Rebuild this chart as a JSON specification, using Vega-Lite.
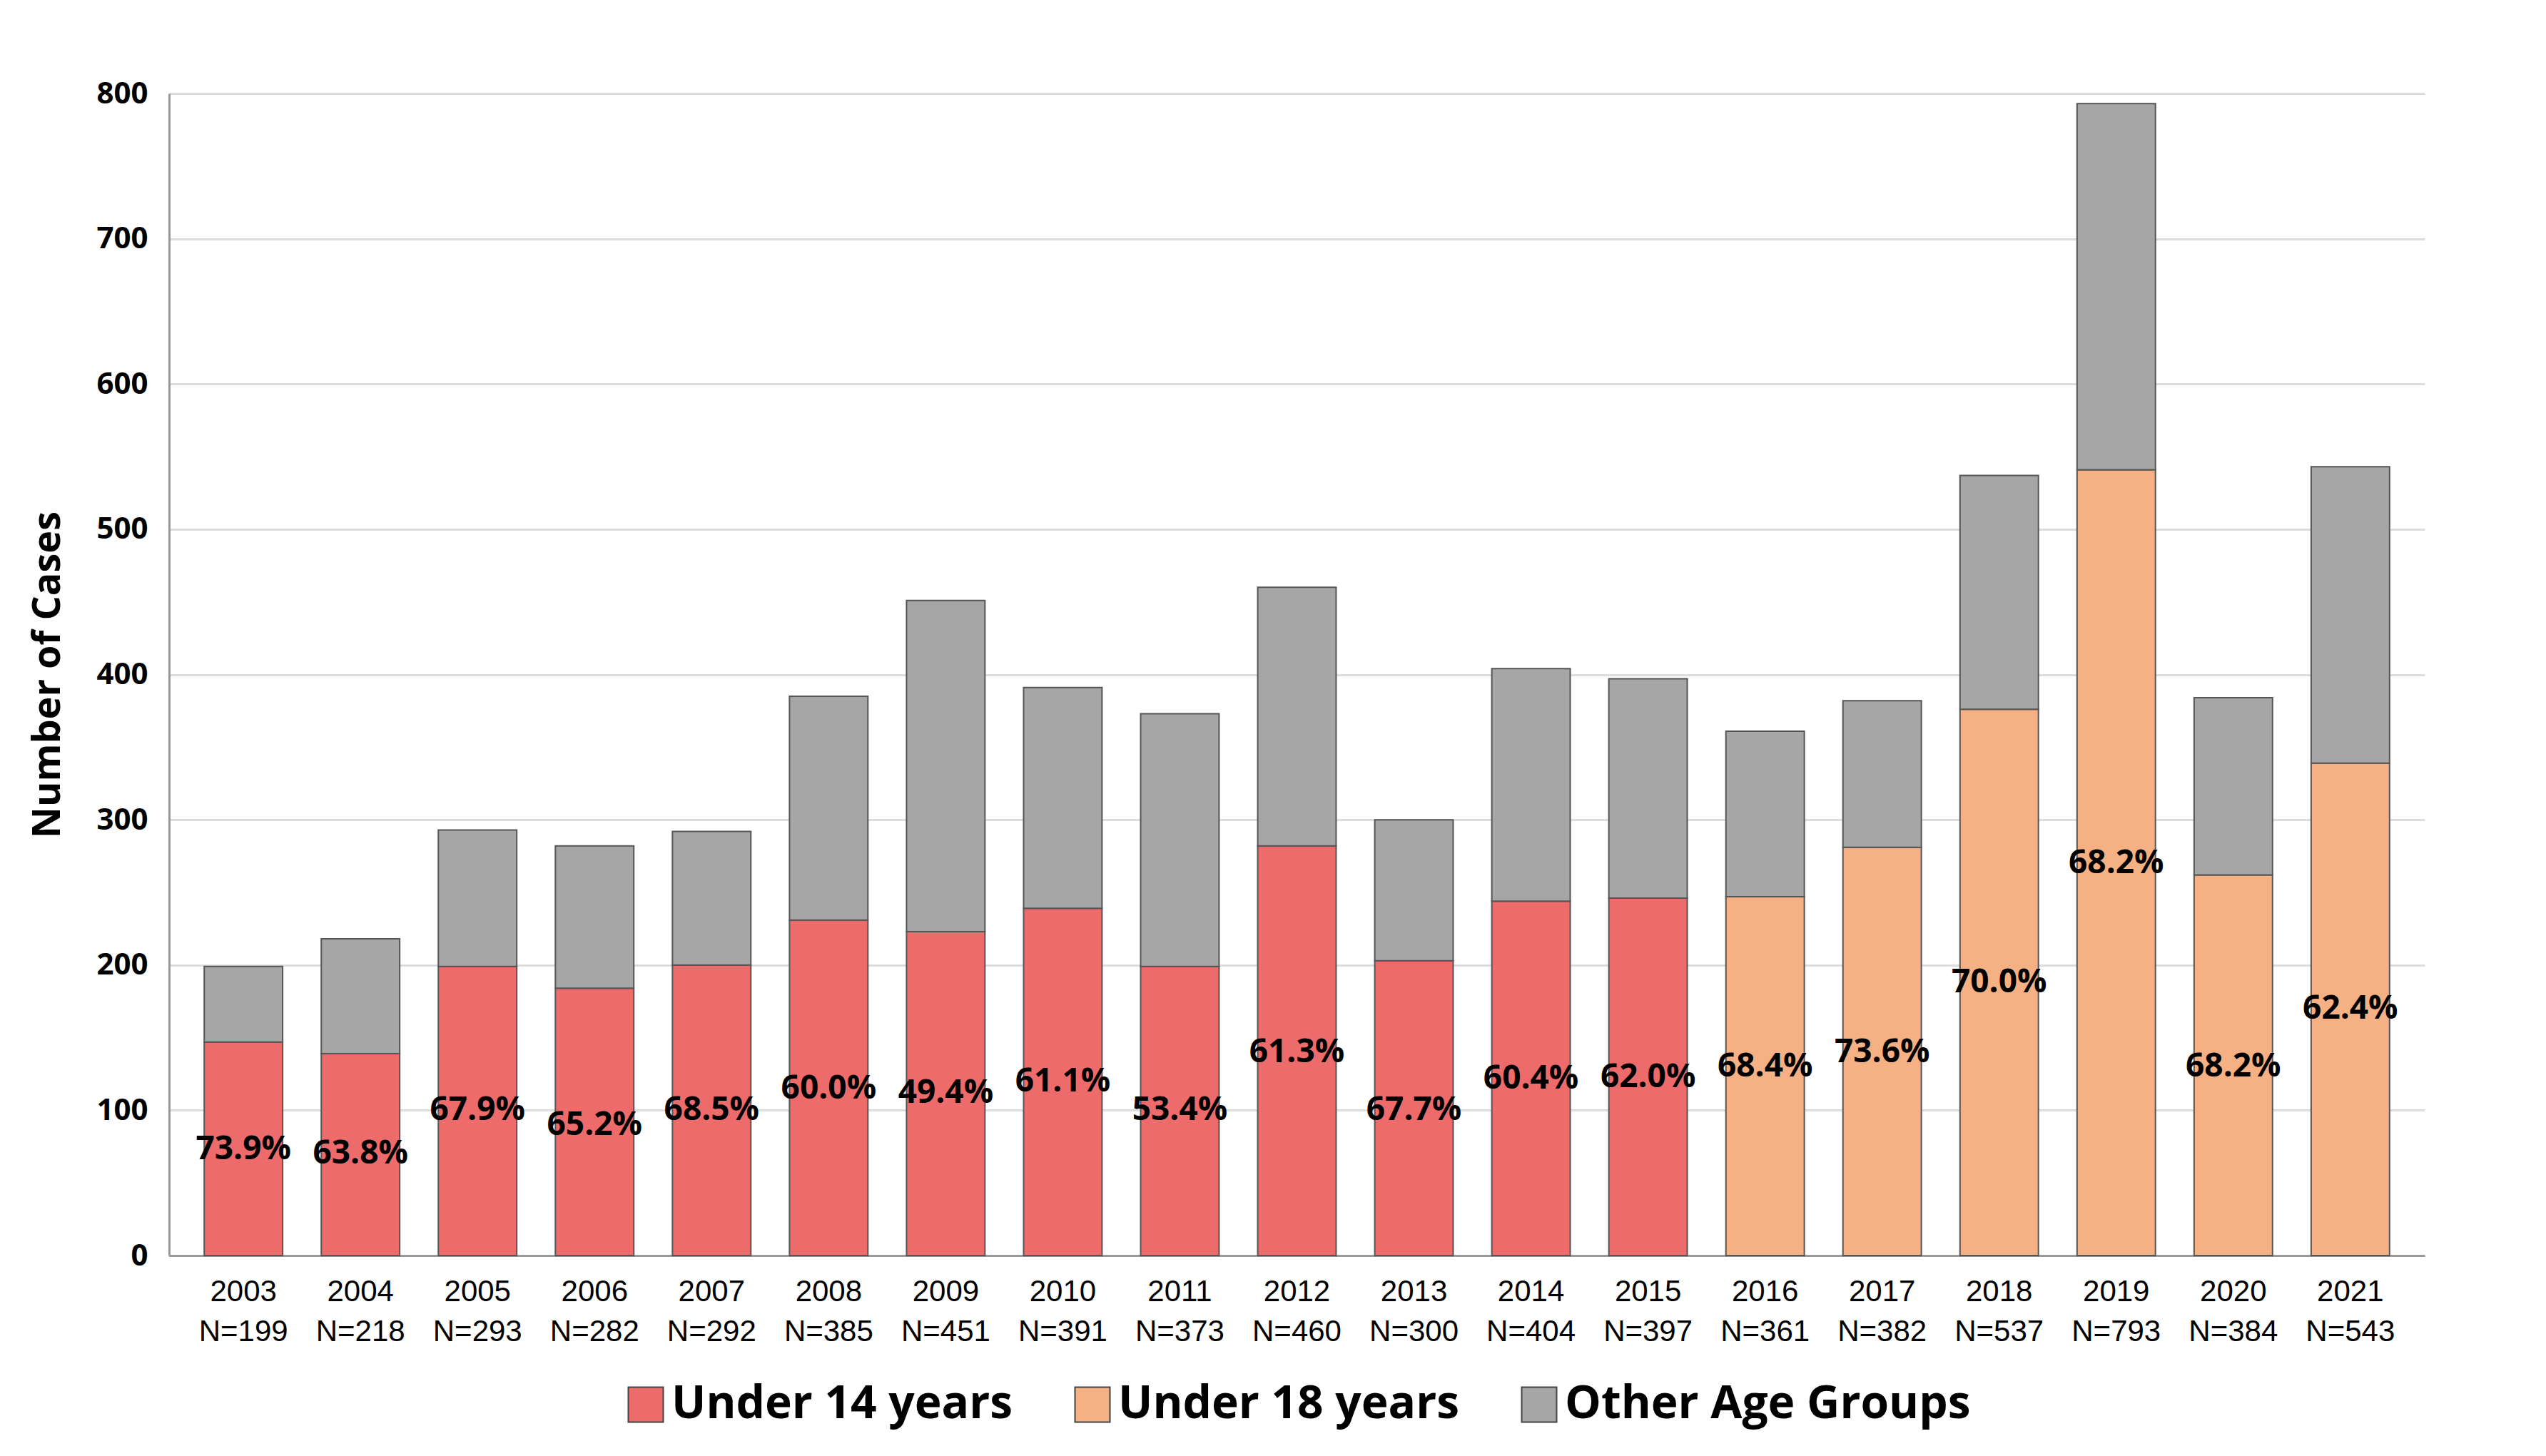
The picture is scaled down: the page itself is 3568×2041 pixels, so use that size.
{
"$schema":"https://vega.github.io/schema/vega-lite/v6.json",
"width":3568,"height":2041,
"autosize":{"type":"fit","contains":"padding"},
"padding":{"left":40,"top":110,"right":170,"bottom":40},
"background":"white",
"config":{"view":{"stroke":null},"font":"Open Sans","legend":{"layout":{"bottom":{"anchor":"middle"}}}},
"data":{"values":[
{"lab":"2003\nN=199","grp":"Under 14 years","ord":0,"v":147,"mid":73,"pct":"73.9%"},{"lab":"2003\nN=199","grp":"Other Age Groups","ord":1,"v":52},
{"lab":"2004\nN=218","grp":"Under 14 years","ord":0,"v":139,"mid":70,"pct":"63.8%"},{"lab":"2004\nN=218","grp":"Other Age Groups","ord":1,"v":79},
{"lab":"2005\nN=293","grp":"Under 14 years","ord":0,"v":199,"mid":100,"pct":"67.9%"},{"lab":"2005\nN=293","grp":"Other Age Groups","ord":1,"v":94},
{"lab":"2006\nN=282","grp":"Under 14 years","ord":0,"v":184,"mid":90,"pct":"65.2%"},{"lab":"2006\nN=282","grp":"Other Age Groups","ord":1,"v":98},
{"lab":"2007\nN=292","grp":"Under 14 years","ord":0,"v":200,"mid":100,"pct":"68.5%"},{"lab":"2007\nN=292","grp":"Other Age Groups","ord":1,"v":92},
{"lab":"2008\nN=385","grp":"Under 14 years","ord":0,"v":231,"mid":115,"pct":"60.0%"},{"lab":"2008\nN=385","grp":"Other Age Groups","ord":1,"v":154},
{"lab":"2009\nN=451","grp":"Under 14 years","ord":0,"v":223,"mid":112,"pct":"49.4%"},{"lab":"2009\nN=451","grp":"Other Age Groups","ord":1,"v":228},
{"lab":"2010\nN=391","grp":"Under 14 years","ord":0,"v":239,"mid":120,"pct":"61.1%"},{"lab":"2010\nN=391","grp":"Other Age Groups","ord":1,"v":152},
{"lab":"2011\nN=373","grp":"Under 14 years","ord":0,"v":199,"mid":100,"pct":"53.4%"},{"lab":"2011\nN=373","grp":"Other Age Groups","ord":1,"v":174},
{"lab":"2012\nN=460","grp":"Under 14 years","ord":0,"v":282,"mid":140,"pct":"61.3%"},{"lab":"2012\nN=460","grp":"Other Age Groups","ord":1,"v":178},
{"lab":"2013\nN=300","grp":"Under 14 years","ord":0,"v":203,"mid":100,"pct":"67.7%"},{"lab":"2013\nN=300","grp":"Other Age Groups","ord":1,"v":97},
{"lab":"2014\nN=404","grp":"Under 14 years","ord":0,"v":244,"mid":122,"pct":"60.4%"},{"lab":"2014\nN=404","grp":"Other Age Groups","ord":1,"v":160},
{"lab":"2015\nN=397","grp":"Under 14 years","ord":0,"v":246,"mid":123,"pct":"62.0%"},{"lab":"2015\nN=397","grp":"Other Age Groups","ord":1,"v":151},
{"lab":"2016\nN=361","grp":"Under 18 years","ord":0,"v":247,"mid":130,"pct":"68.4%"},{"lab":"2016\nN=361","grp":"Other Age Groups","ord":1,"v":114},
{"lab":"2017\nN=382","grp":"Under 18 years","ord":0,"v":281,"mid":140,"pct":"73.6%"},{"lab":"2017\nN=382","grp":"Other Age Groups","ord":1,"v":101},
{"lab":"2018\nN=537","grp":"Under 18 years","ord":0,"v":376,"mid":188,"pct":"70.0%"},{"lab":"2018\nN=537","grp":"Other Age Groups","ord":1,"v":161},
{"lab":"2019\nN=793","grp":"Under 18 years","ord":0,"v":541,"mid":270,"pct":"68.2%"},{"lab":"2019\nN=793","grp":"Other Age Groups","ord":1,"v":252},
{"lab":"2020\nN=384","grp":"Under 18 years","ord":0,"v":262,"mid":130,"pct":"68.2%"},{"lab":"2020\nN=384","grp":"Other Age Groups","ord":1,"v":122},
{"lab":"2021\nN=543","grp":"Under 18 years","ord":0,"v":339,"mid":170,"pct":"62.4%"},{"lab":"2021\nN=543","grp":"Other Age Groups","ord":1,"v":204}
]},
"encoding":{
"x":{"field":"lab","type":"nominal","sort":null,"scale":{"paddingInner":0.33,"paddingOuter":0.3},
 "axis":{"title":null,"labelExpr":"split(datum.label,'\\n')","labelAngle":0,"labelFontSize":42,"labelFont":"Liberation Sans","labelColor":"#000","labelPadding":30,"labelLineHeight":56,"ticks":false,"domainColor":"#999","domainWidth":3}}
},
"layer":[
{"mark":{"type":"bar","stroke":"#555","strokeWidth":2},
 "encoding":{
  "y":{"field":"v","type":"quantitative","stack":"zero","scale":{"domain":[0,800]},
   "axis":{"title":"Number  of  Cases","titleFontSize":54,"titleFontWeight":"bold","titleColor":"#000","titlePadding":40,"labelFontSize":42,"labelFontWeight":"bold","labelColor":"#000","values":[0,100,200,300,400,500,600,700,800],"gridColor":"#ddd","gridWidth":3,"domainColor":"#999","domainWidth":3,"ticks":false,"labelPadding":30}},
  "order":{"field":"ord","type":"quantitative"},
  "color":{"field":"grp","type":"nominal","scale":{"domain":["Under 14 years","Under 18 years","Other Age Groups"],"range":["#EE6B6B","#F5B183","#A6A6A6"]},
   "legend":{"title":null,"orient":"bottom","direction":"horizontal","labelFontSize":64,"labelFontWeight":"bold","labelColor":"#000","labelLimit":0,"symbolType":"square","symbolSize":2400,"symbolStrokeColor":"#444","symbolStrokeWidth":2,"columnPadding":80,"offset":50}}
 }},
{"transform":[{"filter":"datum.ord==0"}],
 "mark":{"type":"text","fontSize":46,"fontWeight":"bold","color":"#000"},
 "encoding":{"y":{"field":"mid","type":"quantitative"},"text":{"field":"pct"}}}
]
}
